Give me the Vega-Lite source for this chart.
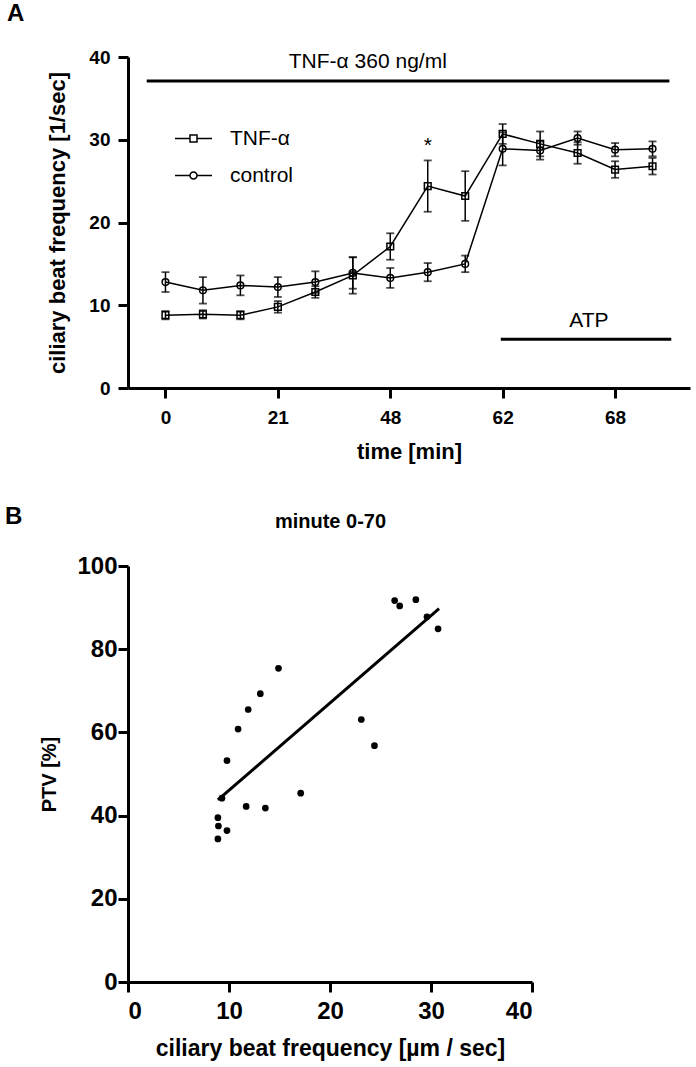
{
  "$schema": "https://vega.github.io/schema/vega-lite/v6.json",
  "padding": {"left": 5, "top": 2, "right": 5, "bottom": 2},
  "background": "white",
  "config": {
    "font": "Liberation Sans",
    "view": {"stroke": null},
    "axis": {
      "domainColor": "black", "tickColor": "black", "labelColor": "black", "titleColor": "black",
      "domainWidth": 3, "tickWidth": 3, "tickSize": 10, "grid": false,
      "labelFont": "Liberation Sans", "titleFont": "Liberation Sans",
      "labelFontWeight": "bold", "titleFontWeight": "bold"
    },
    "title": {"font": "Liberation Sans", "fontWeight": "bold", "color": "black"}
  },
  "datasets": {
    "cbf": [
      {"series": "TNF-α", "idx": 0, "mean": 8.8, "sem": 0.5},
      {"series": "TNF-α", "idx": 1, "mean": 8.9, "sem": 0.5},
      {"series": "TNF-α", "idx": 2, "mean": 8.8, "sem": 0.5},
      {"series": "TNF-α", "idx": 3, "mean": 9.8, "sem": 0.7},
      {"series": "TNF-α", "idx": 4, "mean": 11.6, "sem": 0.7},
      {"series": "TNF-α", "idx": 5, "mean": 13.6, "sem": 2.2},
      {"series": "TNF-α", "idx": 6, "mean": 17.1, "sem": 1.6},
      {"series": "TNF-α", "idx": 7, "mean": 24.4, "sem": 3.1},
      {"series": "TNF-α", "idx": 8, "mean": 23.2, "sem": 3.0},
      {"series": "TNF-α", "idx": 9, "mean": 30.7, "sem": 1.2},
      {"series": "TNF-α", "idx": 10, "mean": 29.5, "sem": 1.5},
      {"series": "TNF-α", "idx": 11, "mean": 28.4, "sem": 1.3},
      {"series": "TNF-α", "idx": 12, "mean": 26.4, "sem": 1.0},
      {"series": "TNF-α", "idx": 13, "mean": 26.8, "sem": 1.0},
      {"series": "control", "idx": 0, "mean": 12.8, "sem": 1.2},
      {"series": "control", "idx": 1, "mean": 11.8, "sem": 1.6},
      {"series": "control", "idx": 2, "mean": 12.4, "sem": 1.2},
      {"series": "control", "idx": 3, "mean": 12.2, "sem": 1.2},
      {"series": "control", "idx": 4, "mean": 12.8, "sem": 1.3},
      {"series": "control", "idx": 5, "mean": 13.9, "sem": 1.9},
      {"series": "control", "idx": 6, "mean": 13.3, "sem": 1.2},
      {"series": "control", "idx": 7, "mean": 14.0, "sem": 1.1},
      {"series": "control", "idx": 8, "mean": 15.0, "sem": 1.0},
      {"series": "control", "idx": 9, "mean": 28.9, "sem": 2.0},
      {"series": "control", "idx": 10, "mean": 28.7, "sem": 1.1},
      {"series": "control", "idx": 11, "mean": 30.2, "sem": 0.8},
      {"series": "control", "idx": 12, "mean": 28.8, "sem": 0.8},
      {"series": "control", "idx": 13, "mean": 28.9, "sem": 0.9}
    ],
    "bars": [
      {"name": "TNF", "start": -0.5, "end": 13.45, "level": 37.1},
      {"name": "ATP", "start": 8.95, "end": 13.5, "level": 5.9}
    ],
    "notes": [
      {"label": "TNF-α 360 ng/ml", "idx": 5.4, "level": 38.7},
      {"label": "ATP", "idx": 11.3, "level": 7.4},
      {"label": "*", "idx": 7, "level": 28.5}
    ],
    "ptv": [
      {"cbf": 14.9, "ptv": 75.4},
      {"cbf": 13.1, "ptv": 69.3},
      {"cbf": 11.9, "ptv": 65.5},
      {"cbf": 10.9, "ptv": 60.8},
      {"cbf": 9.8, "ptv": 53.2},
      {"cbf": 9.3, "ptv": 44.2},
      {"cbf": 11.7, "ptv": 42.2},
      {"cbf": 13.6, "ptv": 41.8},
      {"cbf": 17.1, "ptv": 45.4},
      {"cbf": 8.9, "ptv": 39.5},
      {"cbf": 8.95, "ptv": 37.5},
      {"cbf": 9.8, "ptv": 36.4},
      {"cbf": 8.9, "ptv": 34.4},
      {"cbf": 26.4, "ptv": 91.7},
      {"cbf": 26.9, "ptv": 90.4},
      {"cbf": 28.5, "ptv": 91.9},
      {"cbf": 29.6, "ptv": 87.8},
      {"cbf": 30.7, "ptv": 84.9},
      {"cbf": 23.1, "ptv": 63.1},
      {"cbf": 24.4, "ptv": 56.8}
    ]
  },
  "spacing": 43,
  "vconcat": [
    {
      "title": {"text": "A", "anchor": "start", "frame": "group", "dx": -121, "fontSize": 24, "offset": 22},
      "width": 562,
      "height": 331,
      "layer": [
        {
          "data": {"name": "bars"},
          "mark": {"type": "rule", "strokeWidth": 3, "color": "black"},
          "encoding": {
            "x": {"field": "start", "type": "quantitative", "title": "time [min]",
                  "scale": {"domain": [-1, 14], "nice": false, "zero": false},
                  "axis": {"values": [0, 3, 6, 9, 12],
                           "labelExpr": "datum.value == 0 ? '0' : datum.value == 3 ? '21' : datum.value == 6 ? '48' : datum.value == 9 ? '62' : '68'",
                           "labelFontSize": 19, "titleFontSize": 22, "labelPadding": 10, "titlePadding": 14}},
            "x2": {"field": "end"},
            "y": {"field": "level", "type": "quantitative", "title": "ciliary beat frequency [1/sec]",
                  "scale": {"domain": [0, 40], "nice": false},
                  "axis": {"values": [0, 10, 20, 30, 40], "labelFontSize": 19, "titleFontSize": 22,
                           "labelPadding": 8, "titlePadding": 19}}
          }
        },
        {
          "data": {"name": "notes"},
          "mark": {"type": "text", "fontSize": 21, "baseline": "alphabetic", "align": "center", "color": "black", "font": "Liberation Sans"},
          "encoding": {
            "x": {"field": "idx", "type": "quantitative", "title": "time [min]"},
            "y": {"field": "level", "type": "quantitative", "title": "ciliary beat frequency [1/sec]"},
            "text": {"field": "label"}
          }
        },
        {
          "data": {"name": "cbf"},
          "mark": {"type": "errorbar", "color": "black", "thickness": 1.5, "ticks": {"size": 8, "thickness": 1.8, "color": "black"}},
          "encoding": {
            "x": {"field": "idx", "type": "quantitative", "title": "time [min]"},
            "y": {"field": "mean", "type": "quantitative", "title": "ciliary beat frequency [1/sec]"},
            "yError": {"field": "sem"},
            "detail": {"field": "series"}
          }
        },
        {
          "data": {"name": "cbf"},
          "mark": {"type": "line", "color": "black", "strokeWidth": 1.5},
          "encoding": {
            "x": {"field": "idx", "type": "quantitative", "title": "time [min]"},
            "y": {"field": "mean", "type": "quantitative", "title": "ciliary beat frequency [1/sec]"},
            "detail": {"field": "series"}
          }
        },
        {
          "data": {"name": "cbf"},
          "mark": {"type": "point", "filled": false, "stroke": "black", "strokeWidth": 1.5, "size": 45, "opacity": 1},
          "encoding": {
            "x": {"field": "idx", "type": "quantitative", "title": "time [min]"},
            "y": {"field": "mean", "type": "quantitative", "title": "ciliary beat frequency [1/sec]"},
            "shape": {
              "field": "series", "type": "nominal",
              "scale": {"domain": ["TNF-α", "control"], "range": ["square", "circle"]},
              "legend": null
            }
          }
        },
        {
          "data": {"name": "cbf"},
          "mark": {"type": "point", "filled": false, "stroke": "black", "strokeWidth": 1.5, "size": 45, "opacity": 0},
          "encoding": {
            "x": {"field": "idx", "type": "quantitative", "title": "time [min]"},
            "y": {"field": "mean", "type": "quantitative", "title": "ciliary beat frequency [1/sec]"},
            "shape": {
              "field": "series", "type": "nominal",
              "scale": {"domain": ["TNF-α", "control"],
                        "range": ["M-1,0H-0.19M0.19,0H1M-0.19,-0.19H0.19V0.19H-0.19Z",
                                  "M-1,0H-0.19M0.19,0H1M-0.19,0A0.19,0.19 0 1,0 0.19,0A0.19,0.19 0 1,0 -0.19,0Z"]},
              "legend": {
                "orient": "none", "legendX": 46, "legendY": 62, "title": null,
                "labelFontSize": 21, "labelFont": "Liberation Sans", "labelFontWeight": "normal", "labelColor": "black",
                "symbolSize": 1369, "labelOffset": 17, "rowPadding": 7, "symbolOpacity": 1,
                "symbolStrokeWidth": 1.5, "symbolStrokeColor": "black", "symbolFillColor": "transparent"
              }
            }
          }
        }
      ],
      "resolve": {"scale": {"shape": "independent"}}
    },
    {
      "title": {"text": "B", "anchor": "start", "frame": "group", "dx": -123, "dy": 22, "fontSize": 24},
      "width": 404,
      "height": 416,
      "layer": [
        {
          "data": {"name": "ptv"},
          "mark": {"type": "circle", "size": 45, "color": "black", "opacity": 1},
          "encoding": {
            "x": {"field": "cbf", "type": "quantitative", "title": "ciliary beat frequency [µm / sec]",
                  "scale": {"domain": [0, 40], "nice": false},
                  "axis": {"values": [0, 10, 20, 30, 40], "labelFontSize": 24, "titleFontSize": 23,
                           "labelPadding": 7, "titlePadding": 14}},
            "y": {"field": "ptv", "type": "quantitative", "title": "PTV [%]",
                  "scale": {"domain": [0, 100], "nice": false},
                  "axis": {"values": [0, 20, 40, 60, 80, 100], "labelFontSize": 24, "titleFontSize": 20,
                           "labelPadding": 1, "titlePadding": 17}}
          }
        },
        {
          "data": {"name": "ptv"},
          "transform": [{"regression": "ptv", "on": "cbf", "extent": [8.9, 30.8]}],
          "mark": {"type": "line", "strokeWidth": 3, "color": "black"},
          "encoding": {
            "x": {"field": "cbf", "type": "quantitative", "title": "minute 0-70",
                  "axis": {"orient": "top", "labels": false, "ticks": false, "domain": false,
                           "titleFontSize": 20, "titlePadding": 35}},
            "y": {"field": "ptv", "type": "quantitative", "title": "PTV [%]"}
          }
        }
      ],
      "resolve": {"axis": {"x": "independent"}}
    }
  ]
}
